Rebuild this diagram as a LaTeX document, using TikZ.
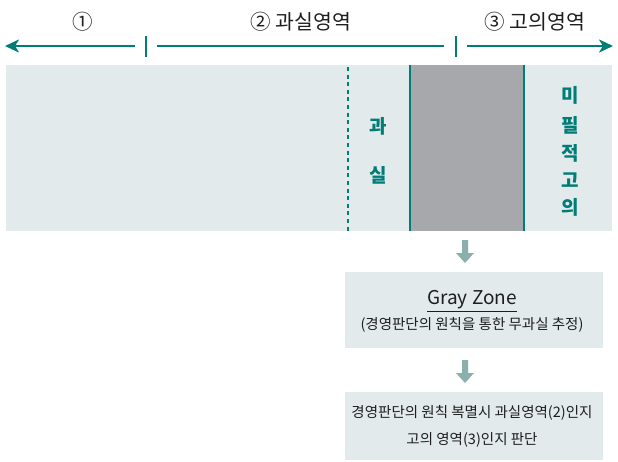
\documentclass[tikz,border=0pt]{standalone}
\usepackage{fontspec}
\setmainfont{Noto Sans CJK KR}
\usetikzlibrary{arrows.meta}
\definecolor{teal1}{RGB}{0,125,118}
\definecolor{bandbg}{RGB}{227,234,235}
\definecolor{grayz}{RGB}{167,168,171}
\definecolor{arrowc}{RGB}{138,175,173}
\definecolor{txt}{RGB}{30,30,30}
\begin{document}
\begin{tikzpicture}[x=1pt,y=-1pt,
  topline/.style={draw=teal1,line width=2.4pt},
  toplabel/.style={font=\fontsize{20.5}{23}\selectfont,text=txt},
  bandlabel/.style={font=\fontsize{19}{21}\selectfont\bfseries,text=teal1},
  boxtext/.style={font=\fontsize{14.5}{16}\selectfont,text=txt},
  infobox/.style={fill=bandbg,draw=none},
  blockarrow/.style={fill=arrowc,draw=none}]
\useasboundingbox (0,0) rectangle (618,461);
% top labels
\node[toplabel] (l1) at (83,22) {①};
\node[toplabel] (l2) at (301,22) {② 과실영역};
\node[toplabel] (l3) at (535,22) {③ 고의영역};
% top arrows
\coordinate (a1s) at (135,46); \coordinate (a1e) at (5,46);
\coordinate (a2s) at (157,46); \coordinate (a2e) at (444,46);
\coordinate (a3s) at (467,46); \coordinate (a3e) at (613,46);
\draw[topline,-{Stealth[length=14pt,width=13pt,inset=4pt]}] (a1s) -- (a1e);
\draw[topline] (a2s) -- (a2e);
\draw[topline,-{Stealth[length=14pt,width=13pt,inset=4pt]}] (a3s) -- (a3e);
\coordinate (t1a) at (146,36); \coordinate (t1b) at (146,57);
\coordinate (t2a) at (456,36); \coordinate (t2b) at (456,57);
\draw[draw=teal1,line width=1.2pt] (t1a) -- (t1b);
\draw[draw=teal1,line width=1.2pt] (t2a) -- (t2b);
% band
\fill[bandbg] (6,65) rectangle (612,231);
\fill[grayz] (410,65) rectangle (524,231);
\coordinate (g1a) at (410,65); \coordinate (g1b) at (410,231);
\coordinate (g2a) at (524,65); \coordinate (g2b) at (524,231);
\draw[teal1,line width=2.2pt] (g1a) -- (g1b);
\draw[teal1,line width=2.2pt] (g2a) -- (g2b);
\coordinate (d1a) at (348,67); \coordinate (d1b) at (348,231);
\draw[teal1,line width=2.2pt,dash pattern=on 4pt off 3.6pt] (d1a) -- (d1b);
\node[bandlabel] (k1) at (378,126) {과};
\node[bandlabel] (k2) at (378,175) {실};
\node[bandlabel] (m1) at (570,95) {미};
\node[bandlabel] (m2) at (570,125) {필};
\node[bandlabel] (m3) at (570,153) {적};
\node[bandlabel] (m4) at (570,180) {고};
\node[bandlabel] (m5) at (570,207) {의};
% block arrows
\fill[blockarrow] (462,240) -- (468,240) -- (468,253) -- (474,253) -- (465,263) -- (456,253) -- (462,253) -- cycle;
\fill[blockarrow] (462,360) -- (468,360) -- (468,373) -- (474,373) -- (465,383) -- (456,373) -- (462,373) -- cycle;
% boxes
\node[infobox,minimum width=258pt,minimum height=76pt,anchor=north west] (b1) at (345,272) {};
\node[boxtext,font=\fontsize{19}{21}\selectfont] (gz) at (472,301) {\underline{Gray Zone}};
\node[boxtext] (gzs) at (472,325) {(경영판단의 원칙을 통한 무과실 추정)};
\node[infobox,minimum width=258pt,minimum height=68pt,anchor=north west] (b2) at (345,392) {};
\node[boxtext] (r1) at (472,413) {경영판단의 원칙 복멸시 과실영역(2)인지};
\node[boxtext] (r2) at (472,440) {고의 영역(3)인지 판단};
\end{tikzpicture}
\end{document}
